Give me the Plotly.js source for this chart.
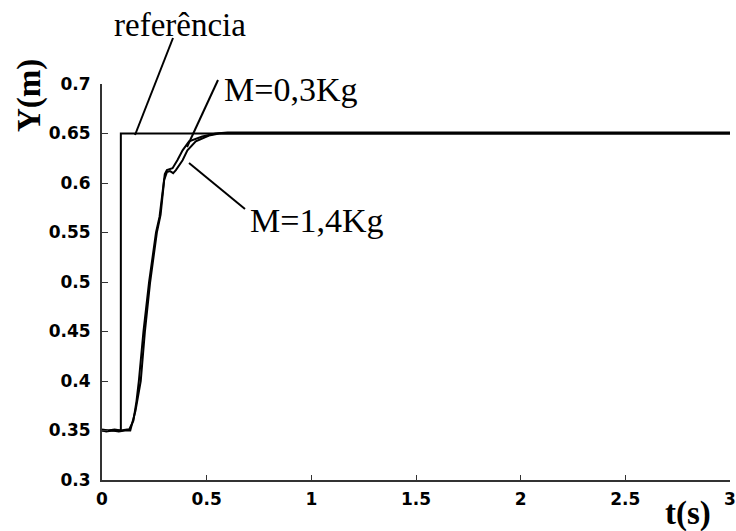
<!DOCTYPE html>
<html>
<head>
<meta charset="utf-8">
<script src="https://cdn.plot.ly/plotly-3.0.1.min.js"></script>
<style>html,body{margin:0;padding:0;background:#fff;overflow:hidden}</style>
</head>
<body>
<div id="chart" style="width:736px;height:531px"></div>
<script>
// ---- data ----
const refT = [0, 0.09, 0.09, 3];
const refY = [0.35, 0.35, 0.65, 0.65];

const m03T = [0, 0.03, 0.06, 0.09, 0.12, 0.13, 0.15, 0.165, 0.176, 0.198, 0.225, 0.258, 0.275, 0.29, 0.30, 0.31, 0.32, 0.337, 0.36, 0.385, 0.416, 0.45, 0.479, 0.543, 0.6, 1, 1.5, 2, 2.5, 3];
const m03Y = [0.351, 0.350, 0.351, 0.350, 0.351, 0.351, 0.36, 0.38, 0.40, 0.45, 0.50, 0.55, 0.566, 0.595, 0.609, 0.613, 0.614, 0.615, 0.623, 0.633, 0.642, 0.645, 0.647, 0.650, 0.651, 0.651, 0.651, 0.651, 0.651, 0.651];

const m14T = [0, 0.02, 0.05, 0.08, 0.11, 0.135, 0.16, 0.185, 0.205, 0.23, 0.262, 0.28, 0.297, 0.31, 0.325, 0.34, 0.353, 0.385, 0.408, 0.448, 0.511, 0.56, 0.6, 1, 1.5, 2, 2.5, 3];
const m14Y = [0.350, 0.349, 0.350, 0.349, 0.350, 0.350, 0.37, 0.40, 0.45, 0.50, 0.55, 0.568, 0.603, 0.611, 0.612, 0.610, 0.613, 0.623, 0.633, 0.642, 0.648, 0.650, 0.650, 0.650, 0.650, 0.650, 0.650, 0.650];

const xTicks = [0, 0.5, 1, 1.5, 2, 2.5, 3];
const xTickText = ['0', '0.5', '1', '1.5', '2', '2.5', '3'];
const yTicks = [0.3, 0.35, 0.4, 0.45, 0.5, 0.55, 0.6, 0.65, 0.7];
const yTickText = ['0.3', '0.35', '0.4', '0.45', '0.5', '0.55', '0.6', '0.65', '0.7'];

const labelRef = 'referência';
const labelM03 = 'M=0,3Kg';
const labelM14 = 'M=1,4Kg';
const xTitle = 't(s)';
const yTitle = 'Y(m)';

// ---- layout helpers (pixel -> paper) ----
const L = 102, R = 730, T = 84, B = 480;
const px = v => (v - L) / (R - L);
const py = v => (B - v) / (B - T);

const traces = [
  {x: refT, y: refY, mode: 'lines', line: {color: '#000', width: 2}, hoverinfo: 'skip'},
  {x: m14T, y: m14Y, mode: 'lines', line: {color: '#000', width: 2}, hoverinfo: 'skip'},
  {x: m03T, y: m03Y, mode: 'lines', line: {color: '#000', width: 2}, hoverinfo: 'skip'}
];

const serif = 'Liberation Serif, Times New Roman, serif';
const tickFont = {family: 'DejaVu Sans, sans-serif', size: 17, color: '#000', weight: 'bold'};

function seg(x0, y0, x1, y1) {
  return {type: 'line', xref: 'paper', yref: 'paper', x0: px(x0), y0: py(y0), x1: px(x1), y1: py(y1),
          line: {color: '#000', width: 2}};
}
function txt(text, cx, cy, size, extra) {
  return Object.assign({text: text, xref: 'paper', yref: 'paper', x: px(cx), y: py(cy),
          xanchor: 'center', yanchor: 'middle', showarrow: false,
          font: {family: serif, size: size, color: '#000'}}, extra || {});
}

const layout = {
  width: 736, height: 531,
  margin: {l: L, r: 736 - R, t: T, b: 531 - B, pad: 0},
  paper_bgcolor: '#fff', plot_bgcolor: '#fff',
  showlegend: false,
  xaxis: {range: [0, 3], tickvals: xTicks, ticktext: xTickText, ticks: 'inside', ticklen: 5,
          tickcolor: '#333', showline: true, linecolor: '#333', linewidth: 2, showgrid: false,
          zeroline: false, tickfont: tickFont, ticklabelstandoff: 3, ticklabeloverflow: 'allow',
          fixedrange: true},
  yaxis: {range: [0.3, 0.7], tickvals: yTicks, ticktext: yTickText, ticks: 'inside', ticklen: 6,
          tickcolor: '#333', showline: true, linecolor: '#333', linewidth: 2, showgrid: false,
          zeroline: false, tickfont: tickFont, ticklabelstandoff: 6, ticklabeloverflow: 'allow',
          fixedrange: true},
  shapes: [
    seg(173, 38, 135, 135),
    seg(218, 80, 187, 147),
    seg(245, 209, 189, 163)
  ],
  annotations: [
    txt(labelRef, 180, 25, 33),
    txt(labelM03, 290, 89, 34),
    txt(labelM14, 316, 220, 34),
    txt(xTitle, 688, 513, 33, {font: {family: serif, size: 33, color: '#000', weight: 'bold'}}),
    txt(yTitle, 30, 96, 33, {textangle: -90, font: {family: serif, size: 33, color: '#000', weight: 'bold'}})
  ]
};

Plotly.newPlot('chart', traces, layout, {displayModeBar: false, staticPlot: true});
</script>
</body>
</html>
